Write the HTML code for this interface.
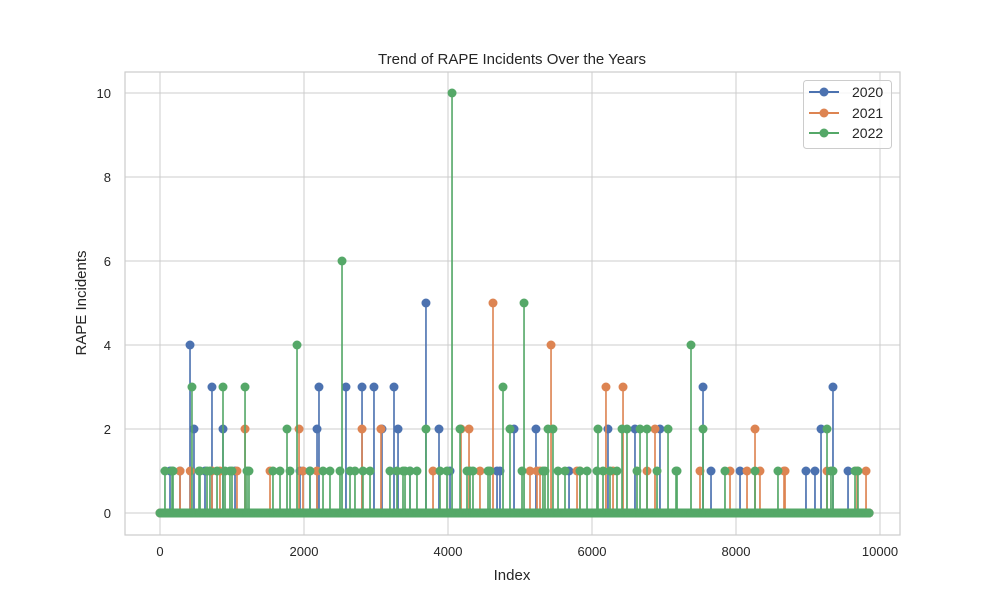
<!DOCTYPE html>
<html><head><meta charset="utf-8"><style>
body{margin:0;background:#fff;font-family:"Liberation Sans",sans-serif}
svg text{font-family:"Liberation Sans",sans-serif;fill:#262626}
</style></head><body>
<svg id="chart" width="1000" height="600" viewBox="0 0 1000 600">
<text x="512" y="64" text-anchor="middle" font-size="15">Trend of RAPE Incidents Over the Years</text>
<g id="grid"></g>
<rect x="125" y="72" width="775" height="463" fill="none" stroke="#ccc" stroke-width="1.2"/>
<g id="series"></g>
<g id="axes"></g>
<text x="512" y="580" text-anchor="middle" font-size="15">Index</text>
<text x="0" y="0" transform="translate(86 303) rotate(-90)" text-anchor="middle" font-size="15">RAPE Incidents</text>
<g>
<rect x="803.5" y="80.5" width="88" height="68" rx="3" fill="#fff" fill-opacity="0.8" stroke="#ccc"/>
<g><line x1="809" y1="92" x2="839" y2="92" stroke="#4c72b0" stroke-width="2"/><circle cx="824" cy="92" r="4.5" fill="#4c72b0"/><text x="852" y="97" font-size="14">2020</text></g>
<g><line x1="809" y1="113" x2="839" y2="113" stroke="#dd8452" stroke-width="2"/><circle cx="824" cy="113" r="4.5" fill="#dd8452"/><text x="852" y="118" font-size="14">2021</text></g>
<g><line x1="809" y1="133" x2="839" y2="133" stroke="#55a868" stroke-width="2"/><circle cx="824" cy="133" r="4.5" fill="#55a868"/><text x="852" y="138" font-size="14">2022</text></g>
</g>
</svg>
<script>
const xTicks=[0,2000,4000,6000,8000,10000];
const yTicks=[0,2,4,6,8,10];
const seriesNames=["2020","2021","2022"];
const seriesColors=["#4c72b0","#dd8452","#55a868"];
const nPoints=9850;
const idx2020=[139,417,472,625,722,875,1042,1944,2181,2208,2583,2806,2972,3083,3250,3306,3472,3694,3875,4028,4681,4917,5222,5681,6222,6597,6944,7542,7653,8056,8972,9097,9181,9347,9556,278,2083,4722];
const val2020=[1,4,2,1,3,2,1,1,2,3,3,3,3,2,3,2,1,5,2,1,1,2,2,1,2,2,2,3,1,1,1,1,2,3,1,1,1,1];
const idx2021=[278,1181,1528,1931,2806,3069,4181,4292,4444,4625,5278,5431,5833,6194,6431,6875,7500,8264,8333,8667,9681,9806,420,722,833,1069,1986,2181,3792,5139,5236,5792,6292,6764,7917,8153,8681,9264];
const val2021=[1,2,1,2,2,2,2,2,1,5,1,4,1,3,3,2,1,2,1,1,1,1,1,1,1,1,1,1,1,1,1,1,1,1,1,1,1,1];
const idx2022=[69,167,444,542,653,875,972,1181,1236,1667,1764,1903,2083,2361,2528,2708,2917,3194,3403,3694,3889,4056,4167,4306,4556,4764,4861,5056,5347,5389,5458,5625,5833,6083,6250,6417,6486,6667,6764,7056,7167,7375,7542,7847,8583,9264,9319,9653,181,556,694,792,903,1000,1208,1569,1806,2264,2500,2639,2819,3292,3375,3472,3569,3986,4264,4347,4583,5028,5319,5528,5931,6069,6153,6347,6625,6903,7181,8264,9347,9694];
const val2022=[1,1,3,1,1,3,1,3,1,1,2,4,1,1,6,1,1,1,1,2,1,10,2,1,1,3,2,5,1,2,2,1,1,2,1,2,2,2,2,2,1,4,2,1,1,2,1,1,1,1,1,1,1,1,1,1,1,1,1,1,1,1,1,1,1,1,1,1,1,1,1,1,1,1,1,1,1,1,1,1,1,1,1];
const sx=v=>160+v*0.072;
const sy=v=>513-v*42;
const NS="http://www.w3.org/2000/svg";
const mk=(t,a,p)=>{const e=document.createElementNS(NS,t);for(const k in a)e.setAttribute(k,a[k]);p.appendChild(e);return e;};
const grid=document.getElementById('grid'),axes=document.getElementById('axes'),ser=document.getElementById('series');
xTicks.forEach(t=>{
 const l=mk('line',{x1:sx(t),x2:sx(t),y1:72,y2:535,stroke:'#ccc','stroke-width':1},grid);
 
 
 const tx=mk('text',{x:sx(t),y:556,'text-anchor':'middle','font-size':13},axes);tx.textContent=t;
 
 
});
yTicks.forEach(t=>{
 const l=mk('line',{x1:125,x2:900,y1:sy(t),y2:sy(t),stroke:'#ccc','stroke-width':1},grid);
 
 
 const tx=mk('text',{x:111,y:sy(t)+5,'text-anchor':'end','font-size':13},axes);tx.textContent=t;
 
 
});
const data=[[idx2020,val2020],[idx2021,val2021],[idx2022,val2022]];
data.forEach(([ix,vs],s)=>{
 const m=new Map();
 for(let i=0;i<nPoints;i+=12)m.set(i,0);
 m.set(nPoints-1,0);
 ix.forEach(i=>{if(!m.has(i-1))m.set(i-1,0);if(!m.has(i+1))m.set(i+1,0);});
 ix.forEach((i,k)=>{m.set(i,vs[k]);});
 const pts=[...m.entries()].sort((a,b)=>a[0]-b[0]);
 const g=mk('g',{},ser);
 
 
 mk('polyline',{points:pts.map(p=>sx(p[0]).toFixed(2)+','+sy(p[1]).toFixed(2)).join(' '),fill:'none',stroke:seriesColors[s],'stroke-width':1.6},g);
 pts.forEach(p=>{
  const c=mk('circle',{cx:sx(p[0]).toFixed(2),cy:sy(p[1]).toFixed(2),r:4.5,fill:seriesColors[s]},g);
  if(p[1]>0){}
 });
});
</script>
</body></html>
